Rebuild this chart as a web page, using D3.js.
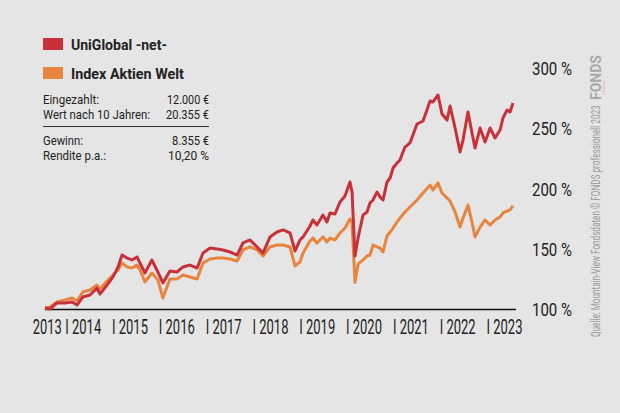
<!DOCTYPE html>
<html>
<head>
<meta charset="utf-8">
<script src="https://cdn.jsdelivr.net/npm/d3@7"></script>
<style>
  html, body { margin: 0; padding: 0; background: #e5e5e5; }
  svg { display: block; }
  text { font-family: 'Roboto', 'Liberation Sans', sans-serif; }
</style>
</head>
<body>
<svg id="chart" width="620" height="413"></svg>
<script>
// ---- data ----
const dates = ["2013-07-31","2013-09-08","2013-11-01","2014-01-03","2014-02-27","2014-04-07","2014-05-23","2014-07-17","2014-09-10","2014-10-03","2014-11-27","2015-01-13","2015-02-21","2015-03-24","2015-05-02","2015-06-10","2015-07-19","2015-08-11","2015-09-19","2015-11-12","2015-12-29","2016-02-06","2016-04-01","2016-05-26","2016-07-12","2016-09-05","2016-10-30","2016-12-15","2017-02-08","2017-04-04","2017-05-20","2017-07-14","2017-09-07","2017-10-23","2017-12-17","2018-02-10","2018-03-29","2018-05-22","2018-07-15","2018-08-31","2018-10-25","2018-12-03","2019-01-11","2019-02-04","2019-03-30","2019-04-22","2019-05-23","2019-07-09","2019-08-09","2019-09-02","2019-10-11","2019-11-19","2019-12-28","2020-02-05","2020-02-21","2020-03-15","2020-04-08","2020-05-17","2020-06-17","2020-07-10","2020-08-03","2020-09-03","2020-09-27","2020-10-20","2020-11-20","2020-12-14","2021-01-06","2021-02-06","2021-03-01","2021-04-09","2021-05-18","2021-07-12","2021-08-28","2021-10-22","2021-11-14","2021-12-23","2022-01-23","2022-03-03","2022-03-27","2022-05-05","2022-06-13","2022-07-06","2022-08-14","2022-09-14","2022-10-08","2022-11-16","2022-12-25","2023-02-02","2023-03-13","2023-04-21","2023-05-14","2023-06-14","2023-07-08","2023-07-31"];

const uniGlobal = [100.8,100,105.0,105.0,105.8,103.3,110.0,111.6,117.4,112.4,119.9,126.6,134.9,144.8,142.3,140.7,143.2,138.2,129.9,140.7,130.7,121.6,131.5,130.7,134.9,136.5,134.0,146.5,150.6,149.8,149.0,147.3,144.8,154.8,157.3,151.5,146.5,159.8,163.9,165.6,163.1,148.1,157.3,159.8,168.9,173.9,169.7,178.0,172.2,179.7,178.8,188.8,193.8,205.4,197.1,144.0,158.9,178.0,180.5,188.0,190.5,197.1,192.9,190.5,205.4,208.7,217.0,221.2,223.7,234.4,237.8,253.5,256.0,272.6,271.8,277.6,261.8,256.8,268.5,250.2,230.3,240.2,263.5,246.1,233.6,250.2,238.6,250.2,241.9,248.5,258.5,265.1,263.5,271.0];

const indexWelt = [100.8,101.7,105.8,107.5,109.1,106.6,114.1,115.8,119.9,116.6,123.2,128.2,132.4,138.2,134.9,134.0,136.5,132.4,122.4,129.9,124.1,109.1,124.9,124.9,128.2,126.6,124.9,138.2,141.5,142.3,142.3,141.5,139.8,149.0,151.5,149.0,144.0,151.5,153.1,153.1,151.5,135.7,139.0,146.5,156.4,158.9,154.8,159.8,155.6,158.9,157.3,163.1,167.2,174.7,171.4,122.0,137.3,140.7,144.0,144.8,153.1,151.5,150.6,147.3,160.6,163.9,167.2,172.2,175.5,180.5,184.6,190.5,196.3,202.9,198.8,204.6,196.3,192.1,189.6,180.5,168.0,175.5,186.3,172.2,159.8,168.0,173.9,169.7,173.9,176.3,179.7,181.3,182.2,185.5];

const seriesNames = ["UniGlobal -net-", "Index Aktien Welt"];
const yTicks = [100, 150, 200, 250, 300];
const xYears = [2014, 2015, 2016, 2017, 2018, 2019, 2020, 2021, 2022, 2023];
const firstYearLabel = "2013";
const tableRows = [["Eingezahlt:", "12.000 €"], ["Wert nach 10 Jahren:", "20.355 €"]];
const tableRows2 = [["Gewinn:", "8.355 €"], ["Rendite p.a.:", "10,20 %"]];
const sourceText = "Quelle: Mountain-View Fondsdaten   © FONDS professionell 2023";

// ---- drawing ----
const RED = "#c8303a", ORANGE = "#e8843d", INK = "#222";
const svg = d3.select("#chart");
const parse = d3.timeParse("%Y-%m-%d");
const dd = dates.map(parse);

// condense text horizontally to a given width (the reference uses a condensed face)
function fit(sel, w) {
  sel.each(function () {
    const nat = this.getComputedTextLength();
    if (!nat) return;
    const s = w / nat;
    const el = d3.select(this);
    const tx = +el.attr("x") || 0, ty = +el.attr("y") || 0;
    const prev = el.attr("transform") || "";
    el.attr("transform", prev + ` translate(${tx},${ty}) scale(${s},1) translate(${-tx},${-ty})`);
  });
  return sel;
}

const x = d3.scaleTime().domain([dd[0], dd[dd.length - 1]]).range([45, 513]);
const y = d3.scaleLinear().domain([100, 300]).range([309, 68]);

// baseline
svg.append("line")
  .attr("x1", x.range()[0]).attr("x2", x.range()[1] + 3)
  .attr("y1", y(100) + 0.5).attr("y2", y(100) + 0.5)
  .attr("stroke", "#111").attr("stroke-width", 1.5);

const line = d3.line().x((d, i) => x(dd[i])).y(d => y(d));

svg.append("path").datum(indexWelt)
  .attr("d", line).attr("fill", "none")
  .attr("stroke", ORANGE).attr("stroke-width", 3).attr("stroke-linejoin", "round");
svg.append("path").datum(uniGlobal)
  .attr("d", line).attr("fill", "none")
  .attr("stroke", RED).attr("stroke-width", 3).attr("stroke-linejoin", "round");

// y axis (right)
const yAxis = d3.axisRight(y).tickValues(yTicks).tickSize(0).tickPadding(0)
  .tickFormat(d => d + " %");
const gy = svg.append("g").attr("transform", "translate(532,0)").call(yAxis);
gy.select(".domain").remove();
fit(gy.selectAll("text").attr("fill", INK).style("font-size", "18.5px")
  .attr("x", 0).attr("dy", "0.36em").attr("text-anchor", "start"), 40);

// x axis
const xAxis = d3.axisBottom(x).tickValues(xYears.map(yv => new Date(yv, 0, 1)))
  .tickSize(0).tickPadding(0).tickFormat(d => "I " + d.getFullYear());
const gx = svg.append("g").attr("transform", "translate(0,334)").call(xAxis);
gx.select(".domain").remove();
fit(gx.selectAll("text").attr("fill", INK).style("font-size", "19.5px")
  .attr("text-anchor", "start").attr("dy", 0).attr("y", 0).attr("x", 0), 36);
fit(svg.append("text").attr("x", x(new Date(xYears[0], 0, 1)) - 3).attr("y", 334)
  .attr("text-anchor", "end").attr("fill", INK).style("font-size", "19.5px").text(firstYearLabel), 29);

// legend
const legColors = [RED, ORANGE];
const legW = [96, 113];
seriesNames.forEach((n, i) => {
  const yy = 38 + i * 29;
  svg.append("rect").attr("x", 43).attr("y", yy).attr("width", 20).attr("height", 12).attr("fill", legColors[i]);
  fit(svg.append("text").attr("x", 71).attr("y", yy + 12).attr("fill", INK)
    .style("font-size", "15.5px").style("font-weight", "bold").text(n), legW[i]);
});

// info table
const labW = [[56, 107], [40, 63]];
const valW = [[42, 43], [37, 41]];
function rows(arr, y0, k) {
  arr.forEach((r, i) => {
    fit(svg.append("text").attr("x", 43).attr("y", y0 + i * 15).attr("fill", INK).style("font-size", "12.7px").text(r[0]), labW[k][i]);
    fit(svg.append("text").attr("x", 209).attr("y", y0 + i * 15).attr("text-anchor", "end").attr("fill", INK).style("font-size", "12.7px").text(r[1]), valW[k][i]);
  });
}
rows(tableRows, 104, 0);
svg.append("line").attr("x1", 43).attr("x2", 209).attr("y1", 126.5).attr("y2", 126.5).attr("stroke", "#333").attr("stroke-width", 1);
rows(tableRows2, 145, 1);

// vertical source text
fit(svg.append("text").attr("transform", "translate(600,337) rotate(-90)")
  .attr("fill", "#9a9a9a").style("font-size", "12px").text(sourceText), 232);
fit(svg.append("text").attr("transform", "translate(601,100) rotate(-90)")
  .attr("fill", "#a8a8a8").style("font-size", "15px").style("font-weight", "bold").text("FONDS"), 45);
fit(svg.append("text").attr("transform", "translate(605,95) rotate(-90)")
  .attr("fill", "#e9a57a").style("font-size", "4px").text("professionell"), 14);
</script>
</body>
</html>
